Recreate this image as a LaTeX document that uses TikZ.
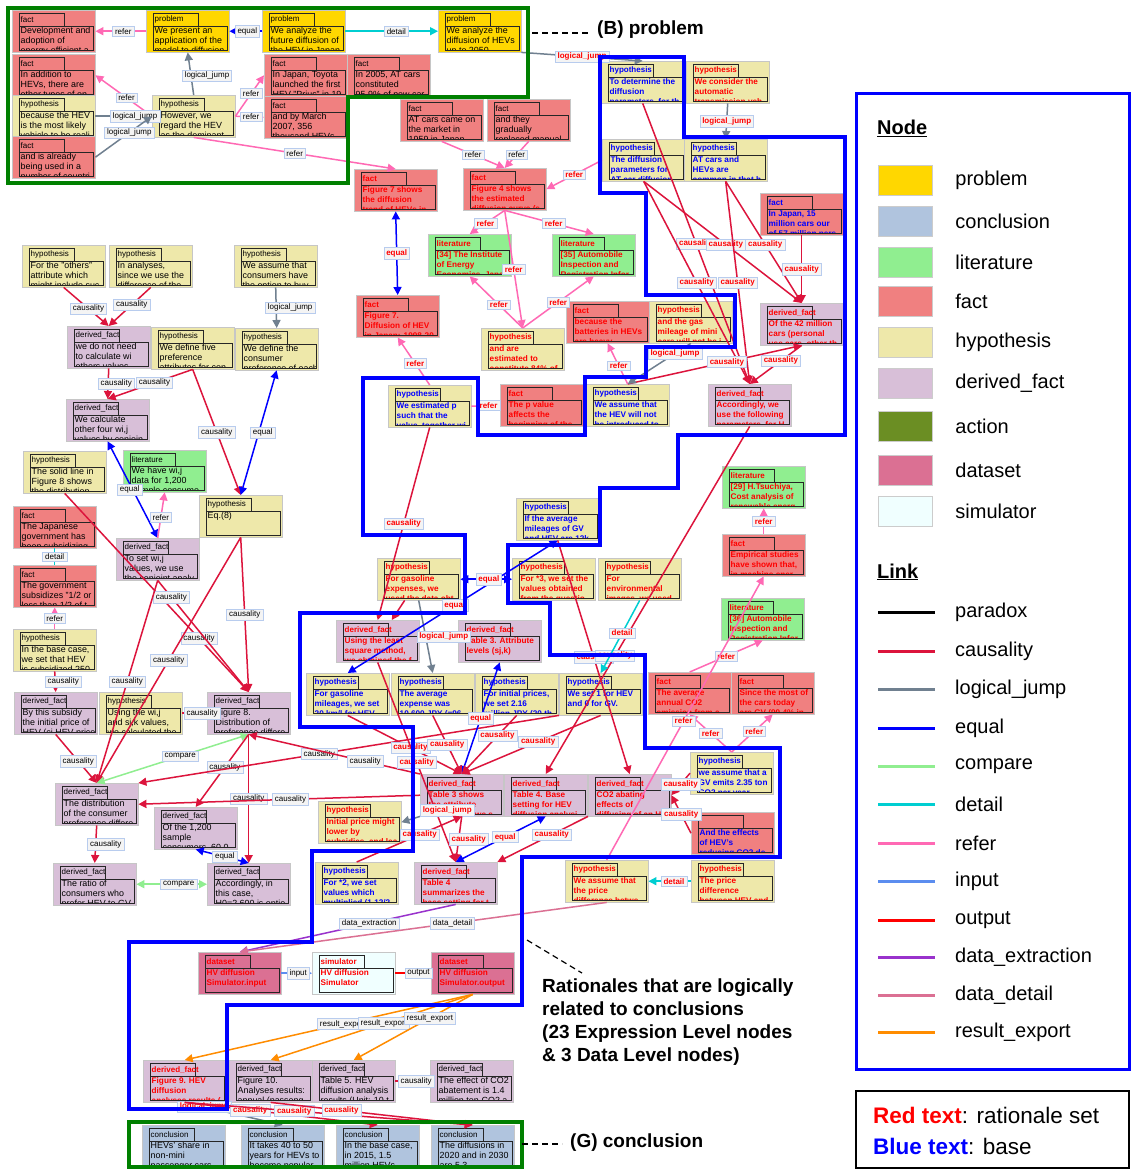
\documentclass[tikz,border=0pt]{standalone}
\usepackage{fontspec}
\setmainfont{Liberation Sans}
\usetikzlibrary{arrows.meta,positioning,calc}

\definecolor{cProblem}{HTML}{FFD700}
\definecolor{cConcl}{HTML}{B0C4DE}
\definecolor{cLit}{HTML}{90EE90}
\definecolor{cFact}{HTML}{F08080}
\definecolor{cHyp}{HTML}{EEE8AA}
\definecolor{cDerived}{HTML}{D8BFD8}
\definecolor{cAction}{HTML}{6B8E23}
\definecolor{cData}{HTML}{DB7093}
\definecolor{cSim}{HTML}{F0FFFF}
\definecolor{cCaus}{HTML}{DC143C}
\definecolor{cJump}{HTML}{708090}
\definecolor{cCompare}{HTML}{90EE90}
\definecolor{cDetail}{HTML}{00CED1}
\definecolor{cRefer}{HTML}{FF69B4}
\definecolor{cInput}{HTML}{5B8DEF}
\definecolor{cExtract}{HTML}{9932CC}
\definecolor{cDData}{HTML}{DB7093}
\definecolor{cExport}{HTML}{FF8C00}
\definecolor{cFrameG}{HTML}{008000}
\definecolor{cLbl}{HTML}{F4F4F4}
\definecolor{cLblEdge}{HTML}{B8CCEE}

\tikzset{
  entbox/.style={anchor=north west, minimum width=83pt, minimum height=42pt, inner sep=0pt, draw=gray!45, line width=.4pt},
  tagN/.style={anchor=west, inner sep=0pt, font=\fontsize{8}{9}\selectfont},
  tagR/.style={tagN, text=red, font=\fontsize{8}{9}\selectfont\bfseries},
  tagB/.style={tagN, text=blue, font=\fontsize{8}{9}\selectfont\bfseries},
  txtN/.style={anchor=north west, inner sep=0pt, align=left, font=\fontsize{8.9}{10}\selectfont},
  txtR/.style={txtN, text=red, font=\fontsize{8.2}{10}\selectfont\bfseries},
  txtB/.style={txtN, text=blue, font=\fontsize{8.2}{10}\selectfont\bfseries},
  lnk/.style={line width=1.5pt},
  atip/.style={-{Triangle[length=8pt,width=8pt]}},
  btip/.style={{Triangle[length=8pt,width=8pt]}-{Triangle[length=8pt,width=8pt]}},
  caus/.style={lnk, draw=cCaus, atip},
  ljump/.style={lnk, draw=cJump, atip},
  eqs/.style={lnk, draw=blue, atip},
  eqq/.style={lnk, draw=blue, btip},
  cmp/.style={lnk, draw=cCompare, btip},
  dtl/.style={lnk, draw=cDetail, atip},
  dtlplain/.style={lnk, draw=cDetail},
  refer/.style={lnk, draw=cRefer, atip},
  inp/.style={lnk, draw=cInput, atip},
  outp/.style={lnk, draw=red, atip},
  extr/.style={lnk, draw=cExtract, atip},
  ddet/.style={lnk, draw=cDData, atip},
  rexp/.style={lnk, draw=cExport, atip},
  lbl/.style={fill=cLbl, draw=cLblEdge, line width=.5pt, inner xsep=2.5pt, inner ysep=2pt, text=black, font=\fontsize{8}{9}\selectfont},
  lblr/.style={lbl, text=red, font=\fontsize{8}{9}\selectfont\bfseries},
  frameB/.style={draw=blue, line width=4.5pt, line join=miter},
  frameG/.style={draw=cFrameG, line width=3.5pt},
  anno/.style={font=\fontsize{19}{23}\selectfont\bfseries, inner sep=0pt},
  dashline/.style={dashed, line width=1.2pt, dash pattern=on 6pt off 4pt},
  swatch/.style={minimum width=54pt, minimum height=30pt, inner sep=0pt, draw=gray!40},
  legtxt/.style={anchor=west, inner sep=0pt, font=\fontsize{20}{24}\selectfont},
  keytxt/.style={anchor=west, inner sep=0pt, font=\fontsize{22.5}{26}\selectfont},
  leghead/.style={anchor=west, inner sep=0pt, font=\fontsize{20}{24}\selectfont\bfseries}
}

% name, left x, top y, fill, text style (N/R/B), tag, text
\newcommand{\ent}[7]{%
  \node[entbox, fill=#4] (#1) at (#2,#3) {};
  \draw[draw=black!85, line width=.8pt] (#2+7,#3+3) rectangle (#2+52,#3+16);
  \node[tag#5] at (#2+8.5,#3+9.6) {#6};
  \begin{scope}
    \clip (#2+7,#3+16) rectangle (#2+81,#3+40);
    \node[txt#5] at (#2+8.5,#3+16.5) {\rule{0pt}{7pt}#7};
  \end{scope}
  \draw[draw=black!85, line width=.8pt] (#2+7,#3+16) rectangle (#2+81,#3+40);
}

\begin{document}
\begin{tikzpicture}[x=1pt, y=-1pt]
\path[fill=white, use as bounding box] (0,0) rectangle (1132,1171);

% ---- problem area
\ent{fDev}{12}{10}{cFact}{N}{fact}{Development and\\adoption of\\energy-efficient a}
\ent{pPres}{146}{10}{cProblem}{N}{problem}{We present an\\application of the\\model to diffusion}
\ent{pFut}{262}{10}{cProblem}{N}{problem}{We analyze the\\future diffusion of\\the HEV in Japan}
\ent{pUpTo}{438}{10}{cProblem}{N}{problem}{We analyze the\\diffusion of HEVs\\up to 2050}
\ent{fAdd}{12}{54}{cFact}{N}{fact}{In addition to\\HEVs, there are\\other types of en}
\ent{hLikely}{12}{95}{cHyp}{N}{hypothesis}{because the HEV\\is the most likely\\vehicle to be reali}
\ent{fAlready}{12}{136}{cFact}{N}{fact}{and is already\\being used in a\\number of countri}
\ent{hRegard}{152}{95}{cHyp}{N}{hypothesis}{However, we\\regard the HEV\\as the dominant}
\ent{fPrius}{264}{54}{cFact}{N}{fact}{In Japan, Toyota\\launched the first\\HEV "Prius" in 19}
\ent{fMarch}{264}{96}{cFact}{N}{fact}{and by March\\2007, 356\\thousand HEVs}
\ent{fAT05}{347}{54}{cFact}{N}{fact}{In 2005, AT cars\\constituted\\95.9\% of new car}
\ent{fAT59}{400}{99}{cFact}{N}{fact}{AT cars came on\\the market in\\1959 in Japan}
\ent{fReplace}{487}{99}{cFact}{N}{fact}{and they\\gradually\\replaced manual}

% ---- upper rationale nodes
\ent{fFig7s}{354}{169}{cFact}{R}{fact}{Figure 7 shows\\the diffusion\\trend of HEVs in}
\ent{fFig4s}{463}{168}{cFact}{R}{fact}{Figure 4 shows\\the estimated\\diffusion curve (s}
\ent{lIEE}{428}{234}{cLit}{R}{literature}{[34] The Institute\\of Energy\\Economics, Japan}
\ent{lAIR35}{552}{234}{cLit}{R}{literature}{[35] Automobile\\Inspection and\\Registration Infor}
\ent{fFig7}{356}{295}{cFact}{R}{fact}{Figure 7.\\Diffusion of HEV\\in Japan: 1998-20}
\ent{hEst84}{481}{328}{cHyp}{R}{hypothesis}{and are\\estimated to\\constitute 84\% of}
\ent{fBatt}{566}{301}{cFact}{R}{fact}{because the\\batteries in HEVs\\are heavy}
\ent{hMini}{649}{301}{cHyp}{R}{hypothesis}{and the gas\\mileage of mini\\cars will not be i}
\ent{dF42}{760}{303}{cDerived}{R}{derived\_fact}{Of the 42 million\\cars (personal\\use cars, other th}
\ent{hDeterm}{601}{61}{cHyp}{B}{hypothesis}{To determine the\\diffusion\\parameters, for th}
\ent{hATveh}{686}{61}{cHyp}{R}{hypothesis}{We consider the\\automatic\\transmission veh}
\ent{hDiffPar}{602}{139}{cHyp}{B}{hypothesis}{The diffusion\\parameters for\\AT car diffusion}
\ent{hCommon}{684}{139}{cHyp}{B}{hypothesis}{AT cars and\\HEVs are\\common in that h}
\ent{f15M}{760}{193}{cFact}{B}{fact}{In Japan, 15\\million cars our\\of 57 million pers}
\ent{hEstP}{388}{385}{cHyp}{B}{hypothesis}{We estimated p\\such that the\\value, together wi}
\ent{fPval}{500}{384}{cFact}{R}{fact}{The p value\\affects the\\beginning of the}
\ent{hNoHEV}{586}{384}{cHyp}{B}{hypothesis}{We assume that\\the HEV will not\\be introduced to}
\ent{dAccord}{708}{384}{cDerived}{R}{derived\_fact}{Accordingly, we\\use the following\\parameters, for H}

% ---- left column
\ent{hOthers}{22}{245}{cHyp}{N}{hypothesis}{For the "others"\\attribute which\\might include suc}
\ent{hAnalyses}{109}{245}{cHyp}{N}{hypothesis}{In analyses,\\since we use the\\difference of the}
\ent{hOption}{234}{245}{cHyp}{N}{hypothesis}{We assume that\\consumers have\\the option to buy}
\ent{dNoNeed}{67}{326}{cDerived}{N}{derived\_fact}{we do not need\\to calculate wi\\others values}
\ent{hFive}{151}{327}{cHyp}{N}{hypothesis}{We define five\\preference\\attributes for con}
\ent{hPref}{235}{328}{cHyp}{N}{hypothesis}{We define the\\consumer\\preference of each}
\ent{dFour}{66}{399}{cDerived}{N}{derived\_fact}{We calculate\\other four wi,j\\values by conjoin}
\ent{hSolid}{23}{451}{cHyp}{N}{hypothesis}{The solid line in\\Figure 8 shows\\the distribution}
\ent{lWij}{123}{450}{cLit}{N}{literature}{We have wi,j\\data for 1,200\\sample consume}
\ent{hEq8}{199}{495}{cHyp}{N}{hypothesis}{Eq.(8)}
\ent{fSubs}{13}{506}{cFact}{N}{fact}{The Japanese\\government has\\been subsidizing}
\ent{fHalf}{13}{565}{cFact}{N}{fact}{The government\\subsidizes "1/2 or\\less than 1/2 of t}
\ent{dSetW}{116}{538}{cDerived}{N}{derived\_fact}{To set wi,j\\values, we use\\the conjoint analy}
\ent{hBase}{13}{629}{cHyp}{N}{hypothesis}{In the base case,\\we set that HEV\\is subsidized 250}
\ent{dSubsidy}{14}{692}{cDerived}{N}{derived\_fact}{By this subsidy\\the initial price of\\HEV (ci,HEV price)}
\ent{hUsing}{99}{692}{cHyp}{N}{hypothesis}{Using the wi,j\\and sj,k values,\\we calculated the}
\ent{dFig8}{207}{692}{cDerived}{N}{derived\_fact}{Figure 8.\\Distribution of\\preference differe}
\ent{dDistr}{55}{783}{cDerived}{N}{derived\_fact}{The distribution\\of the consumer\\preference differe}
\ent{dOf1200}{154}{807}{cDerived}{N}{derived\_fact}{Of the 1,200\\sample\\consumers, 60.0}
\ent{dRatio}{53}{863}{cDerived}{N}{derived\_fact}{The ratio of\\consumers who\\prefer HEV to GV}
\ent{dH0}{207}{863}{cDerived}{N}{derived\_fact}{Accordingly, in\\this case,\\H0=2,600 is optio}

% ---- centre
\ent{hGasExp}{377}{558}{cHyp}{R}{hypothesis}{For gasoline\\expenses, we\\used the data obt}
\ent{hAvgMil}{516}{498}{cHyp}{B}{hypothesis}{If the average\\mileages of GV\\and HEV are 12k}
\ent{hStar3}{512}{558}{cHyp}{R}{hypothesis}{For *3, we set the\\values obtained\\from the questio}
\ent{hEnv}{598}{558}{cHyp}{R}{hypothesis}{For\\environmental\\images, we used}
\ent{dLeast}{336}{620}{cDerived}{R}{derived\_fact}{Using the least\\square method,\\we obtained the f}
\ent{dTab3}{458}{620}{cDerived}{R}{derived\_fact}{Table 3. Attribute\\levels (sj,k)}
\ent{hGasMil}{306}{673}{cHyp}{B}{hypothesis}{For gasoline\\mileages, we set\\20 km/l for HEV}
\ent{hAvgExp}{391}{673}{cHyp}{B}{hypothesis}{The average\\expense was\\10,600 JPY (=96}
\ent{hInit}{475}{673}{cHyp}{B}{hypothesis}{For initial prices,\\we set 2.16\\million JPY (20 th}
\ent{hSet1}{559}{673}{cHyp}{B}{hypothesis}{We set 1 for HEV\\and 0 for GV.}
\ent{fCO2}{648}{672}{cFact}{R}{fact}{The average\\annual CO2\\emission from a}
\ent{fMostGV}{731}{672}{cFact}{R}{fact}{Since the most of\\the cars today\\are GV (99.4\% in}
\ent{lTsu}{722}{466}{cLit}{R}{literature}{[29] H.Tsuchiya,\\Cost analysis of\\renewable energ}
\ent{fEmp}{722}{534}{cFact}{R}{fact}{Empirical studies\\have shown that,\\in machine ener}
\ent{lAIR36}{721}{598}{cLit}{R}{literature}{[36] Automobile\\Inspection and\\Registration Infor}
\ent{hLower}{318}{801}{cHyp}{R}{hypothesis}{Initial price might\\lower by\\subsidies, and lea}
\ent{dTab3s}{420}{774}{cDerived}{R}{derived\_fact}{Table 3 shows\\the attribute\\levels (sj,k) we s}
\ent{dTab4}{504}{774}{cDerived}{R}{derived\_fact}{Table 4. Base\\setting for HEV\\diffusion analysi}
\ent{dAbate}{588}{774}{cDerived}{R}{derived\_fact}{CO2 abating\\effects of\\diffusing of an H}
\ent{hGV235}{690}{752}{cHyp}{B}{hypothesis}{we assume that a\\GV emits 2.35 ton\\CO2 per year}
\ent{fEffects}{691}{812}{cFact}{B}{}{And the effects\\of HEV's\\reducing CO2 de}
\ent{hStar2}{315}{862}{cHyp}{B}{hypothesis}{For *2, we set\\values which\\multiplied (1.12/2}
\ent{dTab4s}{414}{862}{cDerived}{R}{derived\_fact}{Table 4\\summarizes the\\base setting for t}
\ent{hPriceDiff}{565}{860}{cHyp}{R}{hypothesis}{We assume that\\the price\\difference betwe}
\ent{hPriceHEV}{691}{860}{cHyp}{R}{hypothesis}{The price\\difference\\between HEV and}

% ---- data level and results
\ent{dsIn}{198}{952}{cData}{R}{dataset}{HV diffusion\\Simulator.input}
\ent{sim}{312}{952}{cSim}{R}{simulator}{HV diffusion\\Simulator}
\ent{dsOut}{431}{952}{cData}{R}{dataset}{HV diffusion\\Simulator.output}
\ent{dFig9}{143}{1060}{cDerived}{R}{derived\_fact}{Figure 9. HEV\\diffusion\\analyses results (}
\ent{dFig10}{229}{1060}{cDerived}{N}{derived\_fact}{Figure 10.\\Analyses results:\\annual (passeng}
\ent{dTab5}{312}{1060}{cDerived}{N}{derived\_fact}{Table 5. HEV\\diffusion analysis\\results (Unit: 10 t}
\ent{dEffect}{430}{1060}{cDerived}{N}{derived\_fact}{The effect of CO2\\abatement is 1.4\\million ton-CO2 a}
\ent{cShare}{142}{1125}{cConcl}{N}{conclusion}{HEVs' share in\\non-mini\\passenger cars}
\ent{cYears}{241}{1125}{cConcl}{N}{conclusion}{It takes 40 to 50\\years for HEVs to\\become popular}
\ent{c2015}{336}{1125}{cConcl}{N}{conclusion}{In the base case,\\in 2015, 1.5\\million HEVs}
\ent{c2020}{431}{1125}{cConcl}{N}{conclusion}{The diffusions in\\2020 and in 2030\\are 5.3}

% ---- links: problem area
\draw[refer] (pPres.west) -- (fDev.east) node[lbl,pos=.45]{refer};
\draw[eqs] (pFut.west) -- (pPres.east) node[lbl,pos=.45]{equal};
\draw[dtl] (pFut.east) -- (pUpTo.west) node[lbl,pos=.55]{detail};
\draw[ljump] (hRegard.north) -- (pPres.south) node[lbl,pos=.45,xshift=16pt]{logical\_jump};
\draw[refer] (hRegard.west) -- (fAdd.east) node[lbl,pos=.45]{refer};
\draw[ljump] (hLikely.east) -- (hRegard.west) node[lbl,pos=.7]{logical\_jump};
\draw[ljump] (fAlready.east) -- (hRegard.west) node[lbl,pos=.6]{logical\_jump};
\draw[refer] (hRegard.east) -- (fPrius.west) node[lbl,pos=.55]{refer};
\draw[refer] (hRegard.east) -- (fMarch.west) node[lbl,pos=.55]{refer};
\draw[refer] (hRegard.south) -- (fFig7s.north) node[lbl,pos=.5]{refer};
\draw[ljump] (pUpTo.south east) -- (hDeterm.north) node[lblr,pos=.5]{logical\_jump};
\draw[refer] (fAT59.south) -- (fFig4s.north) node[lbl,pos=.5]{refer};
\draw[refer] (fReplace.south) -- (fFig4s.north) node[lbl,pos=.5]{refer};

% ---- links: upper rationale
\draw[eqq] (fFig7s.south) -- (fFig7.north) node[lblr,pos=.5]{equal};
\draw[refer] (hDiffPar.west) -- (fFig4s.east) node[lblr,pos=.5]{refer};
\draw[refer] (fFig4s.south) -- (lIEE.north) node[lblr,pos=.55]{refer};
\draw[refer] (fFig4s.south) -- (lAIR35.north) node[lblr,pos=.55]{refer};
\draw[refer] (fFig4s.south) -- (hEst84.north) node[lblr,pos=.5]{refer};
\draw[refer] (hEst84.north) -- (lIEE.south) node[lblr,pos=.45]{refer};
\draw[refer] (hEst84.north) -- (lAIR35.south) node[lblr,pos=.5]{refer};
\draw[ljump] (hATveh.south) -- (hCommon.north) node[lblr,pos=.5]{logical\_jump};
\draw[caus] (hDeterm.south) -- (dAccord.north) node[lblr,pos=.5]{causality};
\draw[caus] (hDiffPar.south) -- (dF42.north) node[lblr,pos=.52]{causality};
\draw[caus] (hDiffPar.south) -- (dAccord.north) node[lblr,pos=.5]{causality};
\draw[caus] (hCommon.south) -- (dF42.north) node[lblr,pos=.52]{causality};
\draw[caus] (hCommon.south) -- (dAccord.north) node[lblr,pos=.5]{causality};
\draw[caus] (f15M.south) -- (dF42.north) node[lblr,pos=.5]{causality};
\draw[caus] (hNoHEV.north) -- (dF42.south) node[lblr,pos=.57]{causality};
\draw[caus] (dF42.south) -- (dAccord.north) node[lblr,pos=.4]{causality};
\draw[refer] (hEstP.north) -- (fFig7.south) node[lblr,pos=.45]{refer};
\draw[refer] (hEstP.east) -- (fPval.west) node[lblr,pos=.6]{refer};
\draw[refer] (hNoHEV.north) -- (fBatt.south) node[lblr,pos=.45]{refer};
\draw[ljump] (hMini.south) -- (hNoHEV.north) node[lblr,pos=.25]{logical\_jump};

% ---- links: left column
\draw[caus] (hOthers.south) -- (dNoNeed.north) node[lbl,pos=.55]{causality};
\draw[caus] (hAnalyses.south) -- (dNoNeed.north) node[lbl,pos=.45]{causality};
\draw[ljump] (hOption.south) -- (hPref.north) node[lbl,pos=.5,xshift=14pt]{logical\_jump};
\draw[caus] (dNoNeed.south) -- (dFour.north) node[lbl,pos=.5,xshift=8pt]{causality};
\draw[caus] (hFive.south) -- (dFour.north) node[lbl,pos=.45]{causality};
\draw[caus] (hFive.south) -- (hEq8.north) node[lbl,pos=.5]{causality};
\draw[eqq] (hPref.south) -- (hEq8.north) node[lbl,pos=.5,xshift=4pt]{equal};
\draw[eqq] (dFour.south) -- (dSetW.north) node[lbl,pos=.5,xshift=-3pt]{equal};
\draw[refer] (dSetW.north) -- (lWij.south) node[lbl,pos=.45]{refer};
\draw[dtlplain] (fHalf.north) -- (fSubs.south) node[lbl,pos=.5]{detail};
\draw[refer] (hBase.north) -- (fHalf.south) node[lbl,pos=.5]{refer};
\draw[caus] (hBase.south) -- (dSubsidy.north) node[lbl,pos=.5,xshift=8pt]{causality};
\draw[caus] (hSolid.south) -- (dFig8.north) node[lbl,pos=.73]{causality};
\draw[caus] (dSetW.south) -- (dFig8.north) node[lbl,pos=.15]{causality};
\draw[caus] (hEq8.south) -- (dFig8.north) node[lbl,pos=.5]{causality};
\draw[caus] (hEq8.south) -- (dDistr.north) node[lbl,pos=.5]{causality};
\draw[caus] (dSetW.south) -- (dDistr.north) node[lbl,pos=.5]{causality};
\draw[caus] (dSubsidy.south) -- (dDistr.north) node[lbl,pos=.55]{causality};
\draw[caus] (hUsing.east) -- (dFig8.west) node[lbl,pos=.8]{causality};
\draw[cmp] (dFig8.south) -- (dDistr.north) node[lbl,pos=.45]{compare};
\draw[caus] (dFig8.south) -- (dOf1200.north) node[lbl,pos=.45]{causality};
\draw[caus] (dFig8.south) -- (dH0.north) node[lbl,pos=.5]{causality};
\draw[eqq] (dOf1200.south) -- (dH0.north) node[lbl,pos=.55]{equal};
\draw[cmp] (dRatio.east) -- (dH0.west) node[lbl,pos=.6]{compare};
\draw[caus] (dDistr.south) -- (dRatio.north) node[lbl,pos=.5,xshift=10pt]{causality};
\draw[caus] (hSet1.south west) -- (dDistr.north east) node[lbl,pos=.57]{causality};
\draw[caus] (dTab3s.west) -- (dDistr.east) node[lbl,pos=.46]{causality};
\draw[caus] (dTab3s.north west) -- (dFig8.south) node[lbl,pos=.32]{causality};

% ---- links: centre
\draw[caus] (hEstP.south) -- (dLeast.north) node[lblr,pos=.5]{causality};
\draw[caus] (hGasExp) -- (dLeast);
\draw[ljump] (hGasExp.south) -- (hAvgExp.north) node[lblr,pos=.5,xshift=18pt]{logical\_jump};
\draw[eqq] (hGasMil.north) -- (hAvgMil.south) node[lblr,pos=.51]{equal};
\draw[eqq] (hGasExp.east) -- (hStar3.west) node[lblr,pos=.55]{equal};
\draw[eqq] (dTab3.south) -- (dTab3s.north) node[lblr,pos=.5]{equal};
\draw[caus] (hGasMil.south) -- (dTab3s.north) node[lblr,pos=.55]{causality};
\draw[caus] (hAvgExp.south) -- (dTab3s.north) node[lblr,pos=.5]{causality};
\draw[caus] (hInit.south) -- (dTab3s.north) node[lblr,pos=.35]{causality};
\draw[caus] (hSet1.south) -- (dTab3s.north) node[lblr,pos=.45]{causality};
\draw[caus] (dLeast.south) -- (dTab4s.north) node[lblr,pos=.5]{causality};
\draw[ljump] (dTab3s.south west) -- (hLower.east) node[lblr,pos=0,anchor=south west]{logical\_jump};
\draw[caus] (hStar2.north) -- (dTab3s.south) node[lblr,pos=.6]{causality};
\draw[caus] (dTab3s.south) -- (dTab4s.north) node[lblr,pos=.5,xshift=10pt]{causality};
\draw[eqq] (dTab4.south) -- (dTab4s.north) node[lblr,pos=.45]{equal};
\draw[caus] (dAbate.south west) -- (dTab4s.north east) node[lblr,pos=.4]{causality};
\draw[caus] (hGV235.west) -- (dAbate.east) node[lblr,pos=.5]{causality};
\draw[caus] (fEffects.west) -- (dAbate.east) node[lblr,pos=.5]{causality};
\draw[caus] (hAvgMil.south) -- (dAbate.north) node[lblr,pos=.5]{causality};
\draw[caus] (dAccord.south) -- (dTab4.north) node[lblr,pos=.66]{causality};
\draw[dtl] (hEnv.south) -- (hSet1.north) node[lblr,pos=.45]{detail};
\draw[refer] (fCO2.north) -- (lAIR36.south) node[lblr,pos=.5]{refer};
\draw[refer] (hGV235.north) -- (fCO2.south) node[lblr,pos=.5]{refer};
\draw[refer] (hGV235.north) -- (fMostGV.south) node[lblr,pos=.55]{refer};
\draw[refer] (hPriceDiff.north) -- (fEmp.south) node[lblr,pos=.49]{refer};
\draw[refer] (fEmp.north) -- (lTsu.south) node[lblr,pos=.5]{refer};
\draw[dtl] (hPriceHEV.west) -- (hPriceDiff.east) node[lblr,pos=.4]{detail};

% ---- links: data level
\draw[extr] (dTab4s.south) -- (dsIn.north) node[lbl,pos=.4]{data\_extraction};
\draw[ddet] (hPriceDiff.south) -- (dsIn.north) node[lbl,pos=.42]{data\_detail};
\draw[inp] (dsIn.east) -- (sim.west) node[lbl,pos=.55]{input};
\draw[outp] (sim.east) -- (dsOut.west) node[lbl,pos=.65]{output};
\draw[rexp] (dsOut.south) -- (dFig9.north) node[lbl,pos=.45]{result\_export};
\draw[rexp] (dsOut.south) -- (dFig10.north) node[lbl,pos=.44]{result\_export};
\draw[rexp] (dsOut.south) -- (dTab5.north) node[lbl,pos=.36]{result\_export};
\draw[caus] (dTab5.east) -- (dEffect.west) node[lbl,pos=.6]{causality};
\draw[ljump] (dFig9.south) -- (cYears.north) node[lblr,pos=.2]{logical\_jump};
\draw[caus] (dFig9.south) -- (c2015.north) node[lblr,pos=.34]{causality};
\draw[caus] (dFig9.south) -- (c2020.north) node[lblr,pos=.38]{causality};
\draw[caus] (dFig10.south) -- (c2020.north) node[lblr,pos=.35]{causality};

% ---- frames
\draw[frameG] (8,8) -- (528,8) -- (528,97) -- (348,97) -- (348,183) -- (8,183) -- cycle;
\draw[frameG] (129,1122) rectangle (522,1167);
\draw[frameB] (600,57) -- (684,57) -- (684,137) -- (845,137) -- (845,435) -- (678,435)
  -- (678,488) -- (600,488) -- (600,545) -- (508,545) -- (508,603) -- (550,603)
  -- (550,655) -- (645,655) -- (645,748) -- (780,748) -- (780,857) -- (522,857)
  -- (522,1005) -- (227,1005) -- (227,1109) -- (129,1109) -- (129,942) -- (312,942)
  -- (312,851) -- (413,851) -- (413,727) -- (300,727) -- (300,613) -- (465,613)
  -- (465,535) -- (363,535) -- (363,378) -- (478,378) -- (478,435) -- (585,435)
  -- (585,377) -- (646,377) -- (646,347) -- (735,347) -- (735,295) -- (646,295)
  -- (646,193) -- (600,193) -- cycle;

% ---- annotations
\coordinate (bTip) at (532,33);
\node[anno, anchor=west] (annB) at (597,30) {(B) problem};
\draw[dashline] (bTip) -- ([xshift=-8pt]annB.west |- bTip);
\coordinate (rTip) at (527,940);
\node[anno, anchor=north west, align=left] (annR) at (542,979) {Rationales that are logically\\related to conclusions\\(23 Expression Level nodes\\\& 3 Data Level nodes)};
\draw[dashline] (rTip) -- ([xshift=40pt,yshift=6pt]annR.north west);
\coordinate (gTip) at (522,1144);
\node[anno, anchor=west] (annG) at (570,1143) {(G) conclusion};
\draw[dashline] (gTip) -- ([xshift=-8pt]annG.west |- gTip);

% ---- legend
\draw[blue, line width=3pt] (856,93) rectangle (1129,1069);
\node[leghead] (legNode) at (877,128) {\underline{Node}};
\foreach \nm/\col/\yy [count=\i] in {problem/cProblem/180, conclusion/cConcl/221, literature/cLit/262,
    fact/cFact/301, hypothesis/cHyp/342, derived\_fact/cDerived/383, action/cAction/426,
    dataset/cData/470, simulator/cSim/511}{
  \node[swatch, fill=\col] (sw\i) at (905,\yy) {};
  \node[legtxt, right=23pt of sw\i] (swt\i) {\nm};
}
\node[leghead] (legLink) at (877,572) {\underline{Link}};
\foreach \nm/\col/\yy [count=\i] in {paradox/black/612, causality/cCaus/651, logical\_jump/cJump/689,
    equal/blue/728, compare/cCompare/766, detail/cDetail/804, refer/cRefer/843, input/cInput/881,
    output/red/920, data\_extraction/cExtract/957, data\_detail/cDData/995, result\_export/cExport/1032}{
  \coordinate (lk\i) at (878,\yy);
  \draw[line width=3pt, \col] (lk\i) -- ++(57,0);
  \node[legtxt] (lkt\i) at (955,\yy) {\nm};
}
\draw[black, line width=2pt] (856,1091) rectangle (1129,1168);
\node[keytxt] (keyR) at (873,1115) {\textcolor{red}{\bfseries Red text}: rationale set};
\node[keytxt] (keyB) at (873,1146) {\textcolor{blue}{\bfseries Blue text}: base};
\end{tikzpicture}
\end{document}
